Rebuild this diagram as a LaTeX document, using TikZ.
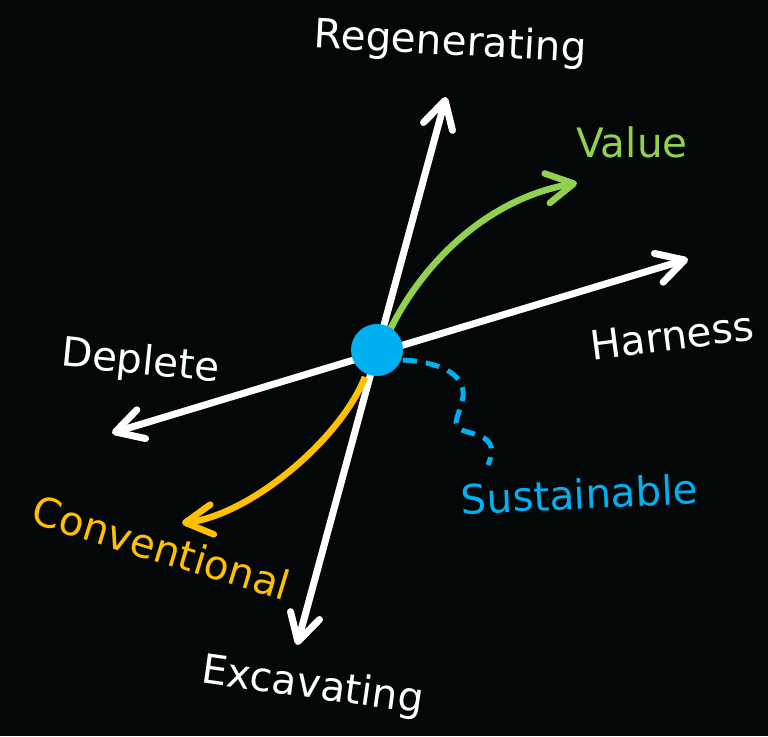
\documentclass[tikz,border=0pt]{standalone}
\usepackage{fontspec}
\setmainfont{DejaVu Sans}
\usetikzlibrary{arrows.meta}
\definecolor{bg}{RGB}{4,7,7}
\definecolor{vgreen}{RGB}{146,208,80}
\definecolor{cgold}{RGB}{255,192,0}
\definecolor{sblue}{RGB}{0,176,240}
\tikzset{
  barb/.tip={Straight Barb[length=27pt,width=30pt,round]},
  axis/.style={draw=white, line width=7pt, barb-barb},
  curvearrow/.style={line width=6.5pt, -barb},
  lbl/.style={font=\fontsize{40.5}{42}\selectfont, text=white, inner sep=0pt, anchor=base},
}
\begin{document}
\begin{tikzpicture}[x=1pt,y=-1pt]
\fill[bg] (0,0) rectangle (768,736);
\useasboundingbox (0,0) rectangle (768,736);
% coordinates
\coordinate (o) at (377,350);
\coordinate (vtop) at (446,97);
\coordinate (vbot) at (297,645);
\coordinate (hright) at (688,259);
\coordinate (hleft) at (112,433);
\coordinate (gstart) at (390,330);
\coordinate (gend) at (577,183);
\coordinate (ostart) at (365,377);
\coordinate (oend) at (182,523);
\coordinate (sstart) at (403,360);
\coordinate (send) at (488,465);
% axes
\draw[axis] (vbot) -- (vtop);
\draw[axis] (hleft) -- (hright);
% curves
\draw[curvearrow, vgreen] (gstart) .. controls (418,272) and (480,200) .. (gend);
\draw[curvearrow, cgold] (ostart) .. controls (340,440) and (250,515) .. (oend);
\draw[sblue, line width=5pt, dash pattern=on 14pt off 9pt, line cap=butt]
  (sstart) .. controls (440,362) and (472,375) .. (461,405)
  -- (457,418) .. controls (452,433) and (470,430) .. (484,438)
  .. controls (495,445) and (492,455) .. (send);
% hub
\node[circle, fill=sblue, minimum size=52pt, inner sep=0pt] (hub) at (o) {};
% labels
\node[lbl, rotate=-3.1] (reg) at (450,55) {Regenerating};
\node[lbl, text=vgreen] (val) at (632,157) {Value};
\node[lbl, rotate=7.4] (har) at (674,350) {Harness};
\node[lbl, rotate=-5.8] (dep) at (139,374) {Deplete};
\node[lbl, text=cgold, rotate=-17] (con) at (157,562) {Conventional};
\node[lbl, rotate=-8] (exc) at (311,698) {Excavating};
\node[lbl, text=sblue, rotate=2.5] (sus) at (580,509) {Sustainable};
\end{tikzpicture}
\end{document}
